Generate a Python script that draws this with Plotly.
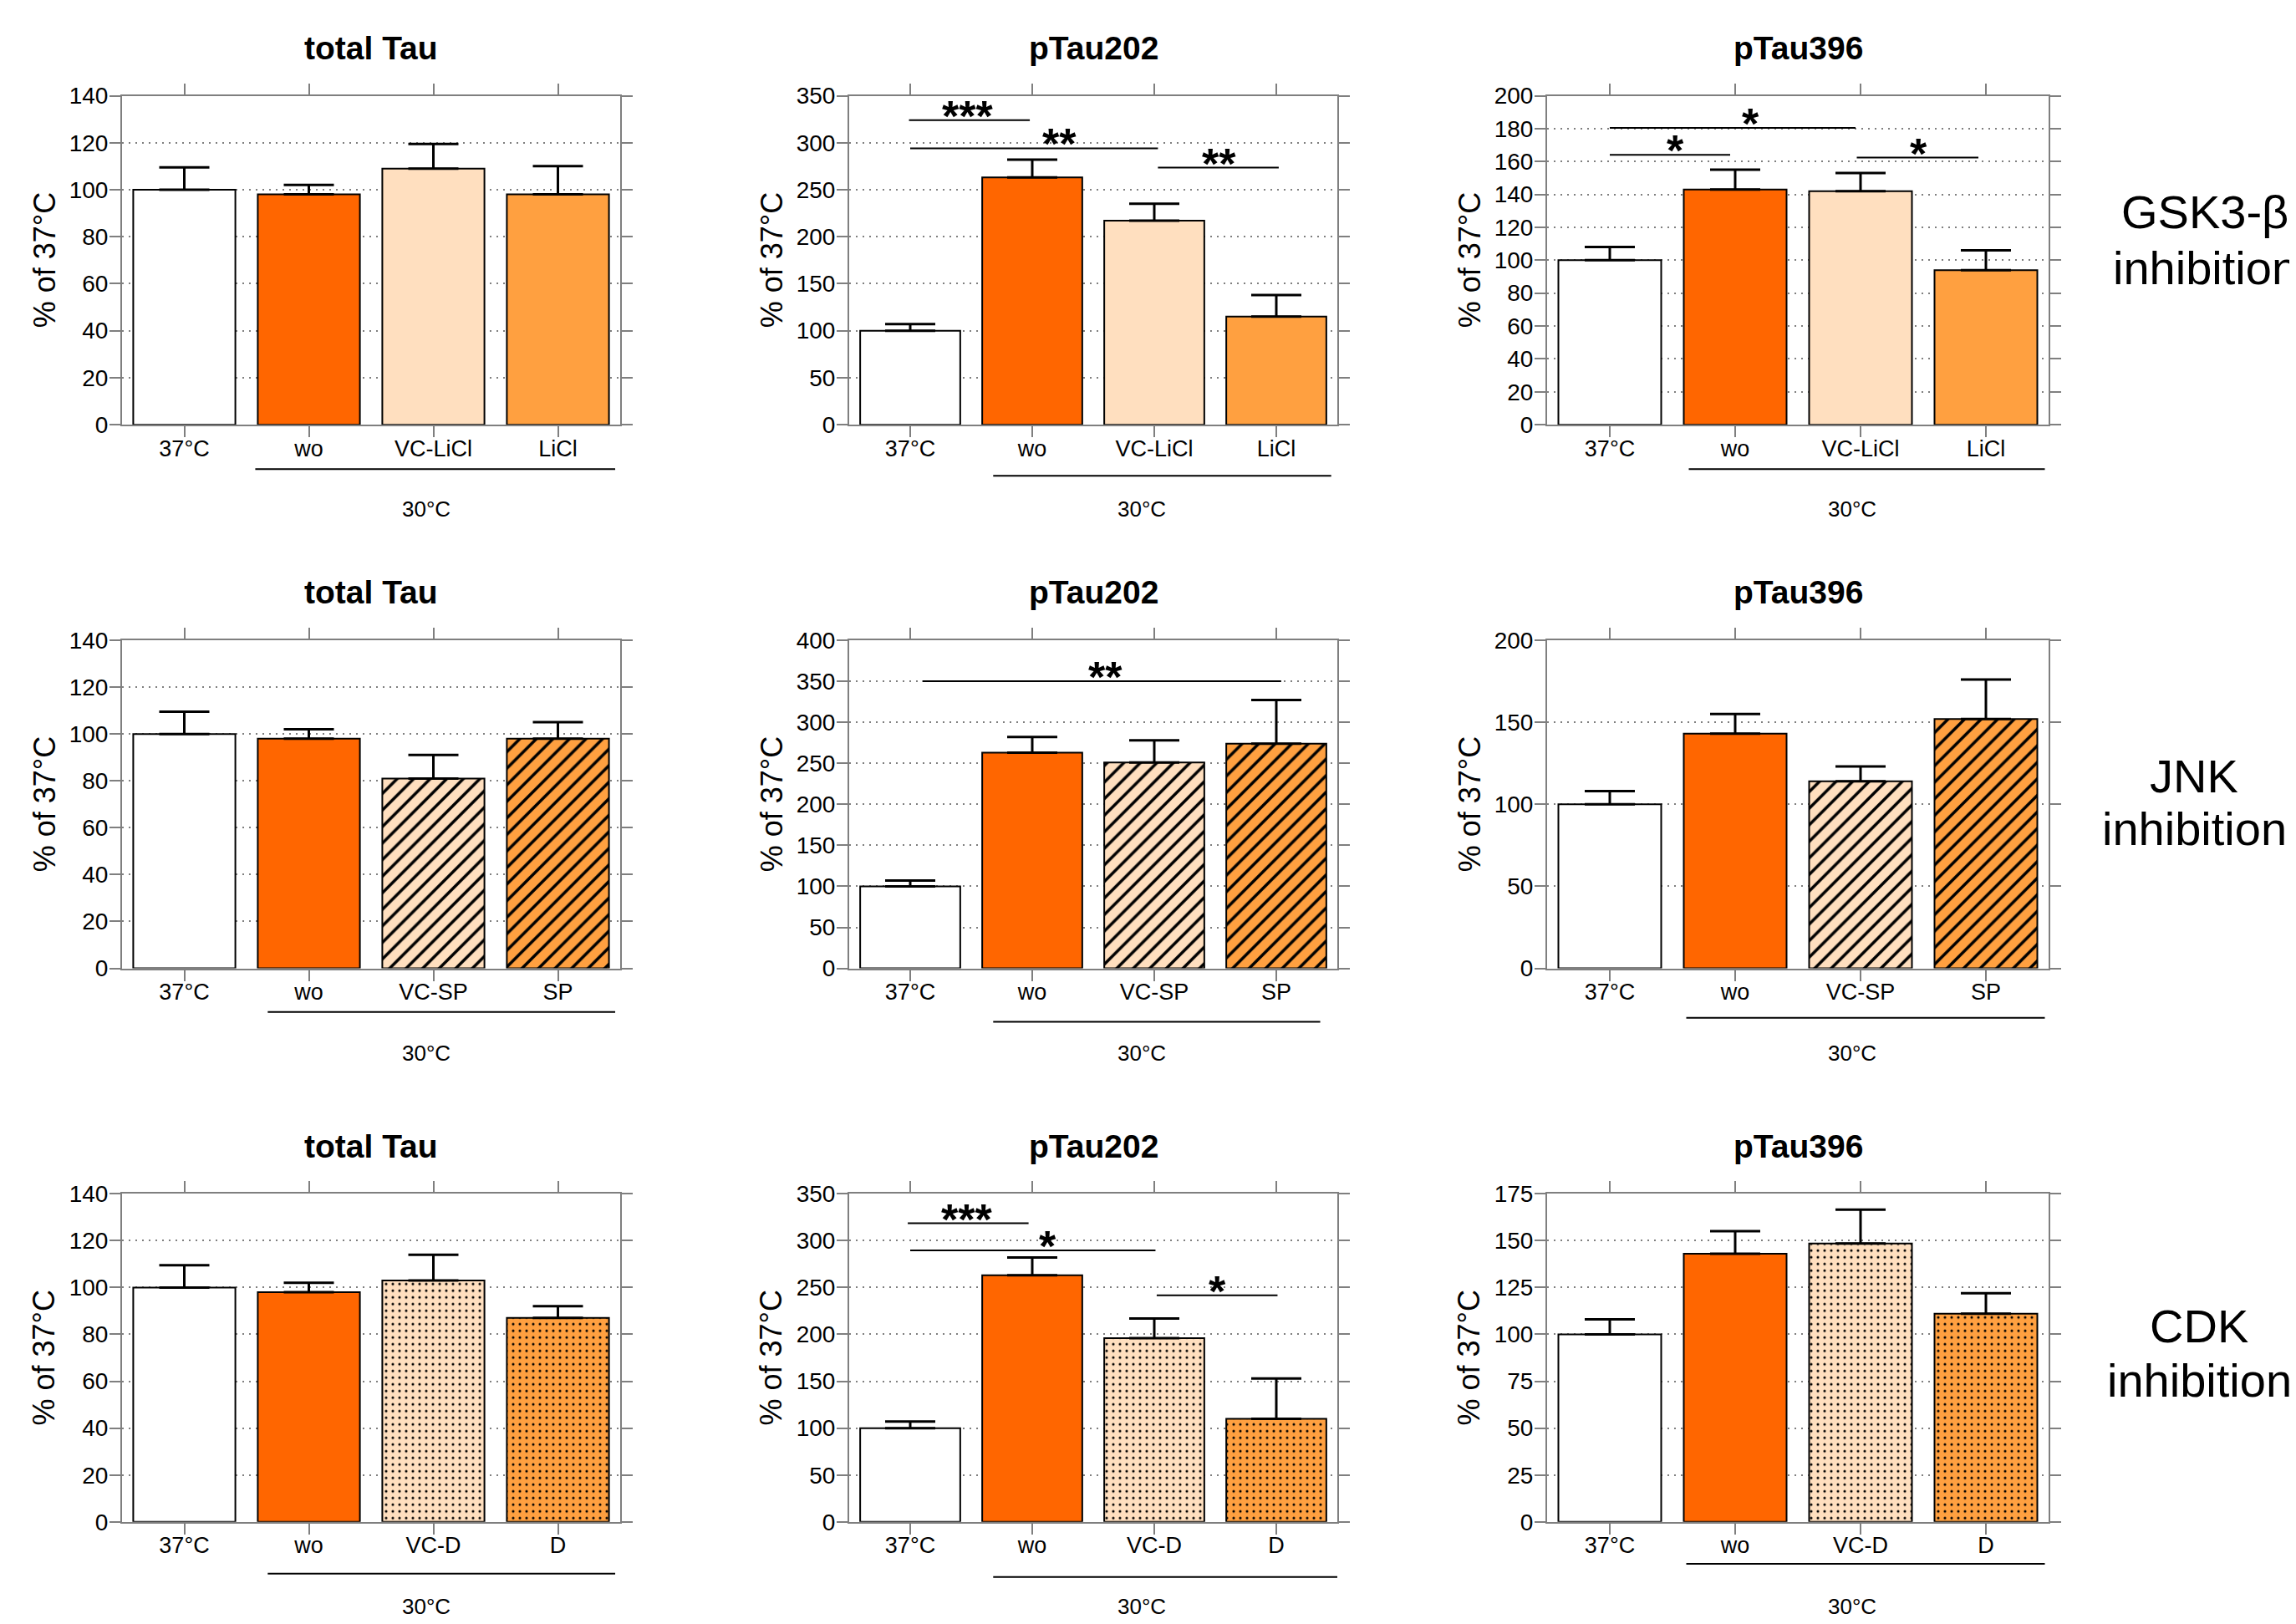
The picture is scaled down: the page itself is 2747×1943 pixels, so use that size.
import plotly.graph_objects as go

W, H = 2747, 1943

# ---------------- data ----------------
cats_gsk = ["37°C", "wo", "VC-LiCl", "LiCl"]
cats_jnk = ["37°C", "wo", "VC-SP", "SP"]
cats_cdk = ["37°C", "wo", "VC-D", "D"]

gsk_total = [100, 98, 109, 98]
gsk_total_err = [9.5, 4, 10.5, 12]
gsk_p202 = [100, 263, 217, 115]
gsk_p202_err = [7, 19, 18, 23]
gsk_p396 = [100, 143, 142, 94]
gsk_p396_err = [8, 12, 11, 12]

jnk_total = [100, 98, 81, 98]
jnk_total_err = [9.5, 4, 10, 7]
jnk_p202 = [100, 263, 251, 274]
jnk_p202_err = [7, 19, 27, 53]
jnk_p396 = [100, 143, 114, 152]
jnk_p396_err = [8, 12, 9, 24]

cdk_total = [100, 98, 103, 87]
cdk_total_err = [9.5, 4, 11, 5]
cdk_p202 = [100, 263, 196, 110]
cdk_p202_err = [7, 19, 21, 43]
cdk_p396 = [100, 143, 148.5, 111]
cdk_p396_err = [8, 12, 18, 11]

titles = ["total Tau", "pTau202", "pTau396"]
row_labels = [("GSK3-β", "inhibition"), ("JNK", "inhibition"), ("CDK", "inhibition")]
group_label = "30°C"
y_title = "% of 37°C"

# significance brackets: (x0, x1, y, label, star x)
sig_gsk_p202 = [(-0.01, 0.98, 324, "***", 0.47), (0.0, 2.03, 294, "**", 1.22), (2.03, 3.02, 273.5, "**", 2.53)]
sig_gsk_p396 = [(0.0, 1.96, 180.4, "*", 1.12), (0.0, 0.96, 164, "*", 0.52), (1.97, 2.94, 162.4, "*", 2.46)]
sig_jnk_p202 = [(0.1, 3.04, 350, "**", 1.6)]
sig_cdk_p202 = [(-0.02, 0.97, 318.5, "***", 0.46), (0.0, 2.01, 289.5, "*", 1.13), (2.02, 3.01, 241.7, "*", 2.52)]

# ---------------- style / layout ----------------
COL_PX = [(138, 734), (1008, 1592), (1843, 2443)]
ROW_PX = [(93, 493), (755, 1154), (1428, 1827)]
GROUP_LABEL_X = [1.94, 1.9, 1.93]
FONT = "Liberation Sans, Arial, Helvetica, sans-serif"
GRAY = "#7f7f7f"
C_WO = "#ff6600"
C_VC = "#ffdfbf"
C_TR = "#ffa040"
fills = ["#ffffff", C_WO, C_VC, C_TR]

panels = [
    # row, col, cats, vals, errs, ymax, dtick, sigs, pattern, group line (x0,x1,offset px)
    (0, 0, cats_gsk, gsk_total, gsk_total_err, 140, 20, [], "", (0.57, 3.46, 54)),
    (0, 1, cats_gsk, gsk_p202, gsk_p202_err, 350, 50, sig_gsk_p202, "", (0.68, 3.45, 62)),
    (0, 2, cats_gsk, gsk_p396, gsk_p396_err, 200, 20, sig_gsk_p396, "", (0.63, 3.47, 54)),
    (1, 0, cats_jnk, jnk_total, jnk_total_err, 140, 20, [], "/", (0.67, 3.46, 53)),
    (1, 1, cats_jnk, jnk_p202, jnk_p202_err, 400, 50, sig_jnk_p202, "/", (0.68, 3.36, 65)),
    (1, 2, cats_jnk, jnk_p396, jnk_p396_err, 200, 50, [], "/", (0.61, 3.47, 60)),
    (2, 0, cats_cdk, cdk_total, cdk_total_err, 140, 20, [], ".", (0.67, 3.46, 63)),
    (2, 1, cats_cdk, cdk_p202, cdk_p202_err, 350, 50, sig_cdk_p202, ".", (0.68, 3.57, 67)),
    (2, 2, cats_cdk, cdk_p396, cdk_p396_err, 175, 25, [], ".", (0.61, 3.47, 51)),
]


def px_x(x):
    return x / W


def px_y(y):
    return 1 - y / H


fig = go.Figure()
layout = dict(
    width=W, height=H, margin=dict(l=0, r=0, t=0, b=0),
    paper_bgcolor="white", plot_bgcolor="white", showlegend=False,
    barmode="overlay",
    font=dict(family=FONT, color="black", size=26),
)
shapes = []
annotations = []

for i, (r, c, cats, vals, errs, ymax, dtick, sigs, pat, gline) in enumerate(panels):
    n = i + 1
    xa = "x" if n == 1 else f"x{n}"
    ya = "y" if n == 1 else f"y{n}"
    x0p, x1p = COL_PX[c]
    y0p, y1p = ROW_PX[r]

    for k, (v, e) in enumerate(zip(vals, errs)):
        marker = dict(color=fills[k], line=dict(color="black", width=2))
        if pat and k >= 2:
            if pat == "/":
                marker["pattern"] = dict(shape="/", fgcolor="black", bgcolor=fills[k],
                                         size=14, solidity=0.25, fillmode="replace")
            else:
                marker["pattern"] = dict(shape=".", fgcolor="black", bgcolor=fills[k],
                                         size=8, solidity=0.12, fillmode="replace")
        fig.add_trace(go.Bar(
            x=[k], y=[v], width=0.82, marker=marker,
            error_y=dict(type="data", array=[e], arrayminus=[0], symmetric=False,
                         color="black", thickness=3, width=30),
            xaxis=xa, yaxis=ya, hoverinfo="skip", name=cats[k],
        ))

    axis_common = dict(
        showline=True, linecolor=GRAY, linewidth=2, mirror="ticks",
        ticks="outside", ticklen=13, tickwidth=2, tickcolor=GRAY,
        zeroline=False, fixedrange=True,
    )
    layout["xaxis" if n == 1 else f"xaxis{n}"] = dict(
        axis_common, domain=[px_x(x0p), px_x(x1p)], range=[-0.5, len(cats) - 0.5],
        tickvals=list(range(len(cats))), ticktext=cats, showgrid=False, anchor=ya,
        tickfont=dict(family=FONT, size=27, color="black"), ticklabelstandoff=-10,
    )
    layout["yaxis" if n == 1 else f"yaxis{n}"] = dict(
        axis_common, domain=[px_y(y1p), px_y(y0p)], range=[0, ymax], dtick=dtick,
        tick0=0, showgrid=True, gridcolor=GRAY, gridwidth=2, griddash="2px,6px",
        anchor=xa, tickfont=dict(family=FONT, size=28, color="black"),
        ticklabelstandoff=-4,
    )

    # significance brackets
    for (sx0, sx1, sy, lab, stx) in sigs:
        shapes.append(dict(type="line", xref=xa, yref=ya, x0=sx0, x1=sx1, y0=sy, y1=sy,
                           line=dict(color="black", width=2)))
        annotations.append(dict(text=lab, xref=xa, yref=ya, x=stx, y=sy, yshift=5,
                                showarrow=False, xanchor="center", yanchor="middle",
                                font=dict(family=FONT, size=52, color="black", weight="bold")))

    # group line and label
    gx0, gx1, goff = gline
    shapes.append(dict(type="line", xref=xa, yref="paper", x0=gx0, x1=gx1,
                       y0=px_y(y1p + goff), y1=px_y(y1p + goff),
                       line=dict(color="black", width=2)))
    annotations.append(dict(text=group_label, xref=xa, yref="paper", x=GROUP_LABEL_X[c],
                            y=px_y(y1p + 103), showarrow=False, xanchor="center",
                            yanchor="middle", font=dict(family=FONT, size=26, color="black")))

    # panel title
    annotations.append(dict(text=titles[c], xref="paper", yref="paper",
                            x=px_x((x0p + x1p) / 2), y=px_y(y0p - 58), showarrow=False,
                            xanchor="center", yanchor="middle",
                            font=dict(family=FONT, size=39, color="black", weight="bold")))
    # y title
    annotations.append(dict(text=y_title, xref="paper", yref="paper",
                            x=px_x(x0p - 93), y=px_y((y0p + y1p) / 2), showarrow=False,
                            textangle=-90, xanchor="center", yanchor="middle",
                            font=dict(family=FONT, size=36, color="black")))

# row labels on the right
row_label_pos = [(2630, 234, 302), (2617, 920, 984), (2623, 1589, 1655)]
for (l1, l2), (cx, y1, y2) in zip(row_labels, row_label_pos):
    annotations.append(dict(text=l1, xref="paper", yref="paper", x=px_x(cx), y=px_y(y1),
                            showarrow=False, xanchor="center", yanchor="middle",
                            font=dict(family=FONT, size=56, color="black")))
    annotations.append(dict(text=l2, xref="paper", yref="paper", x=px_x(cx), y=px_y(y2),
                            showarrow=False, xanchor="center", yanchor="middle",
                            font=dict(family=FONT, size=56, color="black")))

layout["shapes"] = shapes
layout["annotations"] = annotations
fig.update_layout(**layout)
fig.write_html("out.html")
